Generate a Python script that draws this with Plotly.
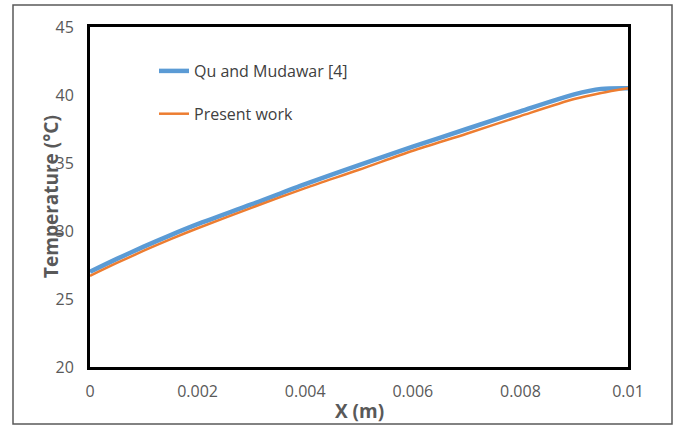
import plotly.graph_objects as go

x_vals = [0, 0.0005, 0.001, 0.0015, 0.002, 0.003, 0.004, 0.005, 0.006, 0.007, 0.008, 0.009, 0.0095, 0.01]
qu_mudawar = [27.0, 27.95, 28.85, 29.7, 30.5, 31.95, 33.45, 34.85, 36.2, 37.5, 38.8, 40.05, 40.45, 40.5]
present_work = [26.7, 27.65, 28.55, 29.4, 30.2, 31.7, 33.15, 34.5, 35.9, 37.15, 38.45, 39.7, 40.15, 40.5]

x_ticks = [0, 0.002, 0.004, 0.006, 0.008, 0.01]
x_tick_text = ["0", "0.002", "0.004", "0.006", "0.008", "0.01"]
y_ticks = [20, 25, 30, 35, 40, 45]

FONT = "Open Sans"
GRAY = "#595959"

fig = go.Figure()
fig.add_trace(go.Scatter(
    x=x_vals, y=qu_mudawar, mode="lines", name="Qu and Mudawar [4]",
    line=dict(color="#5B9BD5", width=4.5, shape="spline", smoothing=0.8),
    legendgroup="a",
))
fig.add_trace(go.Scatter(
    x=x_vals, y=present_work, mode="lines", name="Present work",
    line=dict(color="#ED7D31", width=2.5, shape="spline", smoothing=0.8),
    legendgroup="b",
))

fig.update_layout(
    width=675, height=426,
    margin=dict(l=90, r=47, t=27, b=59),
    paper_bgcolor="white", plot_bgcolor="white",
    font=dict(family=FONT, color=GRAY),
    showlegend=True,
    legend=dict(
        x=(154 - 90) / 538, y=(367 - 54) / 340, xanchor="left", yanchor="top",
        bgcolor="rgba(0,0,0,0)", borderwidth=0,
        font=dict(family=FONT, size=16, color="#404040"),
        tracegroupgap=19,
    ),
    xaxis=dict(
        range=[0, 0.01], tickvals=x_ticks, ticktext=x_tick_text,
        showgrid=False, zeroline=False,
        showline=True, linecolor="black", linewidth=3, mirror=True,
        ticks="", ticklabelstandoff=8,
        tickfont=dict(family=FONT, size=16, color=GRAY),
    ),
    yaxis=dict(
        range=[20, 45], tickvals=y_ticks,
        showgrid=False, zeroline=False,
        showline=True, linecolor="black", linewidth=3, mirror=True,
        ticks="", ticklabelstandoff=10,
        tickfont=dict(family=FONT, size=16, color=GRAY),
    ),
    shapes=[dict(
        type="rect", xref="paper", yref="paper",
        x0=(13 - 90) / 538, x1=(672 - 90) / 538,
        y0=(367 - 424) / 340, y1=(367 - 5) / 340,
        line=dict(color=GRAY, width=1.5), fillcolor="rgba(0,0,0,0)", layer="below",
    )],
    annotations=[
        dict(text="<b>X (m)</b>", xref="paper", yref="paper",
             x=0.5, y=(367 - 411) / 340, xanchor="center", yanchor="middle",
             showarrow=False, font=dict(family=FONT, size=19, color=GRAY)),
        dict(text="<b>Temperature (°C)</b>", xref="paper", yref="paper",
             x=(51 - 90) / 538, y=(367 - 197) / 340, xanchor="center", yanchor="middle",
             textangle=-90, showarrow=False, font=dict(family=FONT, size=19, color=GRAY)),
    ],
)

fig.write_html("out.html")
